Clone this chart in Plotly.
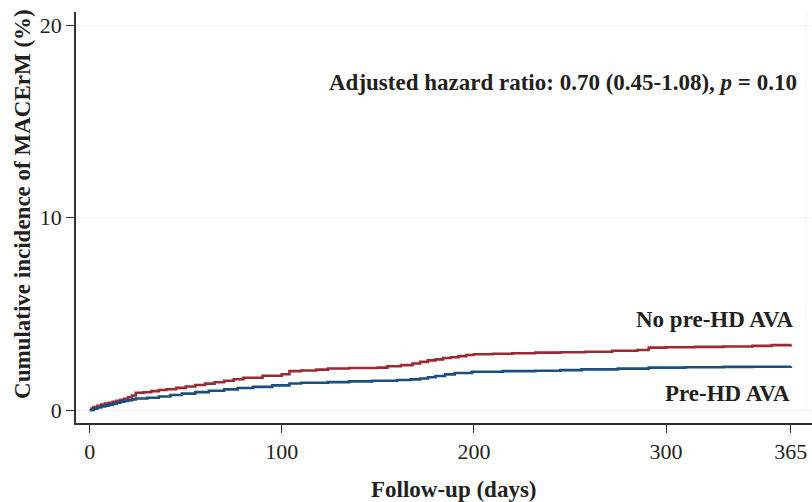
import plotly.graph_objects as go

# Data (cumulative incidence, %)
days_no_ava = [0, 1, 2, 4, 6, 8, 10, 12, 14, 16, 18, 20, 22, 24, 28, 32, 36, 40, 45, 50, 55, 60, 65,
               70, 75, 80, 90, 100, 104, 110, 118, 124, 135, 150, 155, 162, 168, 172, 176, 180, 184,
               188, 192, 196, 200, 210, 220, 232, 245, 258, 272, 285, 291, 300, 315, 330, 345, 355, 365]
inc_no_ava = [0, 0.08, 0.15, 0.22, 0.28, 0.33, 0.38, 0.43, 0.48, 0.53, 0.58, 0.66, 0.75, 0.9, 0.92,
              0.98, 1.04, 1.08, 1.15, 1.22, 1.3, 1.37, 1.44, 1.52, 1.6, 1.68, 1.78, 1.86, 2.02, 2.05,
              2.1, 2.16, 2.18, 2.2, 2.27, 2.33, 2.42, 2.5, 2.58, 2.63, 2.7, 2.74, 2.8, 2.86, 2.9,
              2.92, 2.95, 2.98, 3.0, 3.03, 3.08, 3.12, 3.24, 3.26, 3.28, 3.3, 3.33, 3.37, 3.41]

days_ava = [0, 2, 4, 6, 8, 10, 12, 14, 16, 18, 20, 22, 24, 30, 36, 42, 48, 55, 62, 70, 77, 85, 95,
            104, 110, 124, 135, 147, 160, 167, 172, 176, 180, 185, 190, 199, 215, 232, 245, 256,
            275, 291, 310, 330, 345, 365]
inc_ava = [0, 0.07, 0.13, 0.18, 0.23, 0.28, 0.33, 0.38, 0.43, 0.47, 0.51, 0.55, 0.6, 0.64, 0.7,
           0.78, 0.85, 0.93, 1.0, 1.07, 1.14, 1.2, 1.28, 1.38, 1.42, 1.45, 1.49, 1.52, 1.56, 1.59,
           1.64, 1.7, 1.77, 1.85, 1.92, 1.99, 2.02, 2.04, 2.07, 2.11, 2.15, 2.2, 2.22, 2.24, 2.25, 2.27]

x_ticks = [0, 100, 200, 300, 365]
y_ticks = [0, 10, 20]

FONT = "Liberation Serif"
TXT = "#231f20"

fig = go.Figure()
fig.add_trace(go.Scatter(x=days_no_ava, y=inc_no_ava, mode="lines", line_shape="hv",
                         line=dict(color="#9b2a35", width=2.6), name="No pre-HD AVA"))
fig.add_trace(go.Scatter(x=days_ava, y=inc_ava, mode="lines", line_shape="hv",
                         line=dict(color="#1d4f7c", width=2.6), name="Pre-HD AVA"))

fig.update_layout(
    width=812, height=502,
    margin=dict(l=76, r=0, t=12, b=79),
    paper_bgcolor="white", plot_bgcolor="white",
    showlegend=False,
    font=dict(family=FONT, size=22, color=TXT),
)
fig.update_xaxes(range=[-7.13, 376], tickvals=x_ticks, ticktext=[str(v) for v in x_ticks],
                 showline=True, linecolor="#333333", linewidth=1.5,
                 ticks="outside", ticklen=8, tickcolor="#333333", tickwidth=1.3,
                 showgrid=False, zeroline=False,
                 tickfont=dict(family=FONT, size=22, color=TXT))
fig.update_yaxes(range=[-0.675, 20.68], tickvals=y_ticks, ticktext=[str(v) for v in y_ticks],
                 showline=True, linecolor="#333333", linewidth=1.5,
                 ticks="outside", ticklen=8, tickcolor="#333333", tickwidth=1.3,
                 showgrid=True, gridcolor="#f3f3f3", gridwidth=1, zeroline=False,
                 tickfont=dict(family=FONT, size=22, color=TXT))

# faint right border of the original plot region
fig.add_shape(type="line", xref="x", yref="y", x0=373, x1=373, y0=0, y1=20.68,
              line=dict(color="#f0f0f0", width=1))

BOLD = dict(family=FONT, size=23, color=TXT)
fig.add_annotation(text="<b>Cumulative incidence of MACErM (%)</b>", xref="paper", yref="paper",
                   x=-0.072, y=0.533, xanchor="center", yanchor="middle", textangle=-90,
                   showarrow=False, font=BOLD)
fig.add_annotation(text="<b>Follow-up (days)</b>", xref="paper", yref="paper",
                   x=0.514, y=-0.163, xanchor="center", yanchor="middle",
                   showarrow=False, font=BOLD)
fig.add_annotation(text="<b>Adjusted hazard ratio: 0.70 (0.45-1.08), <i>p</i> = 0.10</b>",
                   xref="x", yref="y", x=369, y=17.04, xanchor="right", yanchor="middle",
                   showarrow=False, font=BOLD)
fig.add_annotation(text="<b>No pre-HD AVA</b>", xref="x", yref="y", x=367.5, y=4.68,
                   xanchor="right", yanchor="middle", showarrow=False, font=BOLD)
fig.add_annotation(text="<b>Pre-HD AVA</b>", xref="x", yref="y", x=365.5, y=0.88,
                   xanchor="right", yanchor="middle", showarrow=False, font=BOLD)

fig.write_html("out.html", config={"displayModeBar": False},
               post_script="document.body.style.margin='0px';")
